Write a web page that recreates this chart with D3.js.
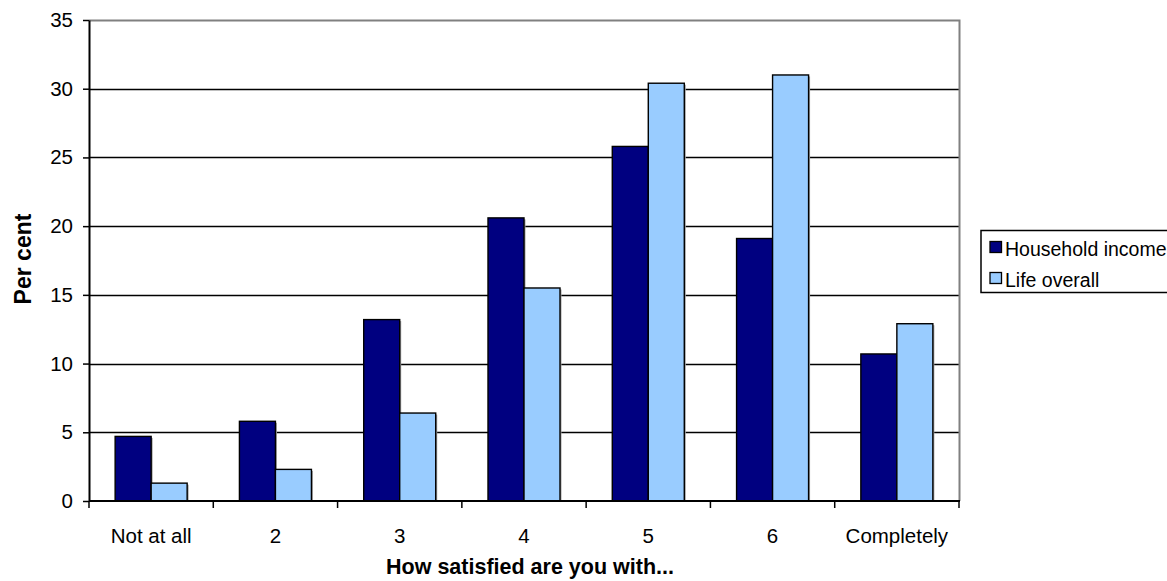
<!DOCTYPE html>
<html>
<head>
<meta charset="utf-8">
<script src="https://cdn.jsdelivr.net/npm/d3@7"></script>
<style>
  html, body { margin: 0; padding: 0; background: #fff; }
  svg { display: block; font-family: "Liberation Sans", Arial, sans-serif; }
</style>
</head>
<body>
<svg id="chart" width="1167" height="581"></svg>
<script>
// Satisfaction response categories
const categories = ["Not at all", "2", "3", "4", "5", "6", "Completely"];
const seriesNames = ["Household income", "Life overall"];
// Per cent of respondents in each category
const householdIncome = [4.7, 5.8, 13.2, 20.6, 25.8, 19.1, 10.7];
const lifeOverall = [1.3, 2.3, 6.4, 15.5, 30.4, 31.0, 12.9];
const yTicks = [0, 5, 10, 15, 20, 25, 30, 35];
const colors = ["#000080", "#99CCFF"];

const rows = categories.map((c, i) => ({
  category: c,
  values: [householdIncome[i], lifeOverall[i]]
}));

const svg = d3.select("#chart");
const plot = { left: 89, right: 959, top: 20, bottom: 501 };

const x0 = d3.scaleBand().domain(categories).range([plot.left, plot.right]).padding(0);
const x1 = d3.scaleBand().domain(seriesNames).range([0, x0.bandwidth()])
  .paddingInner(0).paddingOuter(0.726);
const y = d3.scaleLinear().domain([0, 35]).range([plot.bottom, plot.top]);

// Horizontal gridlines
svg.append("g")
  .selectAll("line")
  .data(yTicks.filter(t => t > 0 && t < 35))
  .join("line")
  .attr("x1", plot.left).attr("x2", plot.right)
  .attr("y1", d => Math.round(y(d)) + 0.5).attr("y2", d => Math.round(y(d)) + 0.5)
  .attr("stroke", "#000").attr("stroke-width", 1.4);

// Plot frame (top and right)
svg.append("path")
  .attr("d", `M${plot.left},${plot.top + 0.5}H${plot.right + 0.5}V${plot.bottom}`)
  .attr("fill", "none").attr("stroke", "#808080").attr("stroke-width", 2);

// Bars
const groups = svg.append("g")
  .selectAll("g")
  .data(rows)
  .join("g")
  .attr("transform", d => `translate(${x0(d.category)},0)`);

groups.selectAll("rect.shadow")
  .data(d => d.values.map((v, k) => ({ key: seriesNames[k], value: v, k })))
  .join("rect")
  .attr("class", "shadow")
  .attr("x", d => x1(d.key) + 1.5)
  .attr("y", d => y(d.value) + 1.5)
  .attr("width", x1.bandwidth())
  .attr("height", d => y(0) - y(d.value) - 1.5)
  .attr("fill", "#a0a0a0");

groups.selectAll("rect.bar")
  .data(d => d.values.map((v, k) => ({ key: seriesNames[k], value: v, k })))
  .join("rect")
  .attr("class", "bar")
  .attr("x", d => x1(d.key))
  .attr("y", d => y(d.value))
  .attr("width", x1.bandwidth())
  .attr("height", d => y(0) - y(d.value))
  .attr("fill", d => colors[d.k])
  .attr("stroke", "#000").attr("stroke-width", 1.4);

// Y axis
const yAxis = svg.append("g")
  .attr("transform", `translate(${plot.left},0)`)
  .call(d3.axisLeft(y).tickValues(yTicks).tickSize(6).tickPadding(10).tickSizeOuter(0));
yAxis.select(".domain").attr("stroke", "#000").attr("stroke-width", 2);
yAxis.selectAll(".tick line").attr("stroke", "#000").attr("stroke-width", 1.5);
yAxis.selectAll(".tick text")
  .attr("fill", "#000").style("font-size", "20.5px")
  .style("font-family", "'Liberation Sans', Arial, sans-serif");

// X axis with ticks at category boundaries
const xAxisG = svg.append("g").attr("transform", `translate(0,${plot.bottom})`);
xAxisG.append("line")
  .attr("x1", plot.left).attr("x2", plot.right + 1)
  .attr("stroke", "#000").attr("stroke-width", 2);
const boundaries = categories.map(c => x0(c)).concat([plot.right]);
xAxisG.selectAll("line.tk")
  .data(boundaries)
  .join("line")
  .attr("class", "tk")
  .attr("x1", d => d).attr("x2", d => d)
  .attr("y1", 0).attr("y2", 7)
  .attr("stroke", "#000").attr("stroke-width", 1.5);
xAxisG.selectAll("text")
  .data(categories)
  .join("text")
  .attr("x", d => x0(d) + x0.bandwidth() / 2)
  .attr("y", 42)
  .attr("text-anchor", "middle")
  .style("font-size", "20.5px")
  .text(d => d);

// Axis titles
svg.append("text")
  .attr("x", 530).attr("y", 574)
  .attr("text-anchor", "middle")
  .style("font-size", "21.5px").style("font-weight", "bold")
  .text("How satisfied are you with...");

svg.append("text")
  .attr("transform", "translate(31,259) rotate(-90)")
  .attr("text-anchor", "middle")
  .style("font-size", "23px").style("font-weight", "bold")
  .text("Per cent");

// Legend
const legend = svg.append("g");
legend.append("rect")
  .attr("x", 981).attr("y", 230.5).attr("width", 200).attr("height", 62)
  .attr("fill", "#fff").attr("stroke", "#000").attr("stroke-width", 1.5);
const items = legend.selectAll("g.item")
  .data(seriesNames)
  .join("g")
  .attr("class", "item")
  .attr("transform", (d, i) => `translate(0,${i * 31})`);
items.append("rect")
  .attr("x", 990).attr("y", 241.5).attr("width", 11.5).attr("height", 11)
  .attr("fill", (d, i) => colors[i]).attr("stroke", "#000").attr("stroke-width", 1.3);
items.append("text")
  .attr("x", 1005).attr("y", 255.5)
  .style("font-size", "19.5px")
  .text(d => d);
</script>
</body>
</html>
